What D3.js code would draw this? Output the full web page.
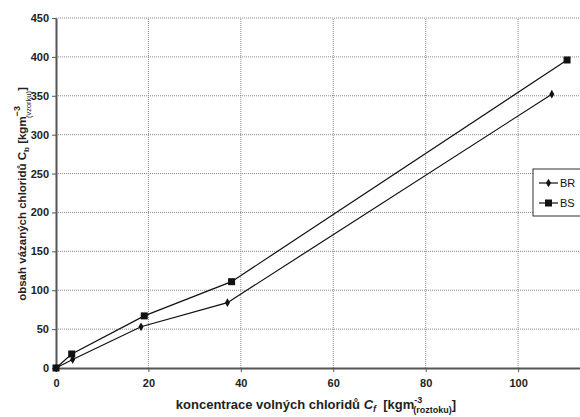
<!DOCTYPE html>
<html>
<head>
<meta charset="utf-8">
<script src="https://cdn.jsdelivr.net/npm/d3@7"></script>
<style>
body { margin: 0; background: #fff; }
text { font-family: "Liberation Sans", Arial, sans-serif; white-space: pre; }
</style>
</head>
<body>
<script>
// values
var brX = [0, 3.6, 18.4, 37.1, 107.3];
var brY = [0, 11, 53, 84, 352];
var bsX = [0, 3.4, 19.1, 38.0, 110.6];
var bsY = [0, 18, 67, 111, 396];
var xTicks = [0, 20, 40, 60, 80, 100];
var yTicks = [0, 50, 100, 150, 200, 250, 300, 350, 400, 450];
var seriesNames = ["BR", "BS"];

var W = 580, H = 417;
var svg = d3.select("body").append("svg").attr("width", W).attr("height", H);

var x = d3.scaleLinear().domain([0, 113.4]).range([56, 580]);
var y = d3.scaleLinear().domain([0, 450]).range([368, 18]);

// grid
svg.append("g").selectAll("line").data(yTicks.slice(1)).enter().append("line")
	.attr("x1", x(0)).attr("x2", W)
	.attr("y1", function(d){ return y(d); }).attr("y2", function(d){ return y(d); })
	.attr("stroke", "#888").attr("stroke-width", 1).attr("stroke-dasharray", "1,1");
svg.append("g").selectAll("line").data(xTicks.slice(1)).enter().append("line")
	.attr("y1", y(0)).attr("y2", y(450))
	.attr("x1", function(d){ return x(d); }).attr("x2", function(d){ return x(d); })
	.attr("stroke", "#888").attr("stroke-width", 1).attr("stroke-dasharray", "1,1");

// axes
var yAxis = svg.append("g").attr("transform", "translate(" + x(0) + ",0)")
	.call(d3.axisLeft(y).tickValues(yTicks).tickSize(4).tickSizeOuter(0));
var xAxis = svg.append("g").attr("transform", "translate(0," + y(0) + ")")
	.call(d3.axisBottom(x).tickValues(xTicks).tickSize(4).tickSizeOuter(0));
[xAxis, yAxis].forEach(function(a){
	a.select(".domain").attr("stroke", "#555").attr("stroke-width", 2);
	a.selectAll(".tick line").attr("stroke", "#555");
	a.selectAll("text").attr("font-size", 11).attr("font-weight", "bold").attr("fill", "#222")
		.style("font-family", "Liberation Sans, Arial, sans-serif");
});
yAxis.selectAll("text").attr("x", -7);
xAxis.selectAll("text").attr("y", 11);

// series
var line = d3.line().x(function(d){ return x(d[0]); }).y(function(d){ return y(d[1]); });
var br = d3.zip(brX, brY), bs = d3.zip(bsX, bsY);
svg.append("path").datum(br).attr("d", line).attr("fill", "none").attr("stroke", "#111").attr("stroke-width", 1.2);
svg.append("path").datum(bs).attr("d", line).attr("fill", "none").attr("stroke", "#111").attr("stroke-width", 1.2);

var diamond = d3.symbol().type(d3.symbolDiamond).size(22);
svg.append("g").selectAll("path").data(br).enter().append("path")
	.attr("d", diamond).attr("fill", "#111")
	.attr("transform", function(d){ return "translate(" + x(d[0]) + "," + y(d[1]) + ")"; });
svg.append("g").selectAll("rect").data(bs).enter().append("rect")
	.attr("x", function(d){ return x(d[0]) - 3.5; }).attr("y", function(d){ return y(d[1]) - 3.5; })
	.attr("width", 7).attr("height", 7).attr("fill", "#111");

// legend
var lg = svg.append("g").attr("transform", "translate(533,169)");
lg.append("rect").attr("width", 50).attr("height", 47).attr("fill", "#fff").attr("stroke", "#333").attr("stroke-width", 1);
seriesNames.forEach(function(n, i){
	var ly = 14 + i * 20;
	lg.append("line").attr("x1", 6).attr("x2", 25).attr("y1", ly).attr("y2", ly).attr("stroke", "#111").attr("stroke-width", 1.2);
	if (i == 0) lg.append("path").attr("d", diamond).attr("fill", "#111").attr("transform", "translate(15.5," + ly + ")");
	else lg.append("rect").attr("x", 12).attr("y", ly - 3.5).attr("width", 7).attr("height", 7).attr("fill", "#111");
	lg.append("text").attr("x", 27).attr("y", ly + 4).attr("font-size", 11).attr("fill", "#111").text(n);
});

// y label
var yl = svg.append("text").attr("transform", "translate(26,194) rotate(-90)")
	.attr("text-anchor", "middle").attr("font-size", 11.5).attr("font-weight", "bold").attr("fill", "#222");
yl.append("tspan").text("obsah vázaných chloridů C");
yl.append("tspan").attr("font-size", 8).attr("dy", 3).text("b");
yl.append("tspan").attr("dy", -3).text(" [kgm");
yl.append("tspan").attr("font-size", 9).attr("dy", -6).text("−3");
yl.append("tspan").attr("font-size", 7.5).attr("font-weight", "normal").attr("dx", -12).attr("dy", 11).text("(vzorku)");
yl.append("tspan").attr("dy", -5).text("]");

// x label
var xl = svg.append("text").attr("x", 316).attr("y", 409)
	.attr("text-anchor", "middle").attr("font-size", 13).attr("font-weight", "bold").attr("fill", "#222");
xl.append("tspan").text("koncentrace volných chloridů ");
xl.append("tspan").attr("font-style", "italic").text("C");
xl.append("tspan").attr("font-style", "italic").attr("font-size", 9).attr("dy", 3).text("f");
xl.append("tspan").attr("dy", -3).text("  [kgm");
xl.append("tspan").attr("font-size", 9).attr("dy", -6).text("-3");
xl.append("tspan").attr("font-size", 9).attr("dx", -9).attr("dy", 10).text("(roztoku)");
xl.append("tspan").attr("dy", -4).text("]");
</script>
</body>
</html>
